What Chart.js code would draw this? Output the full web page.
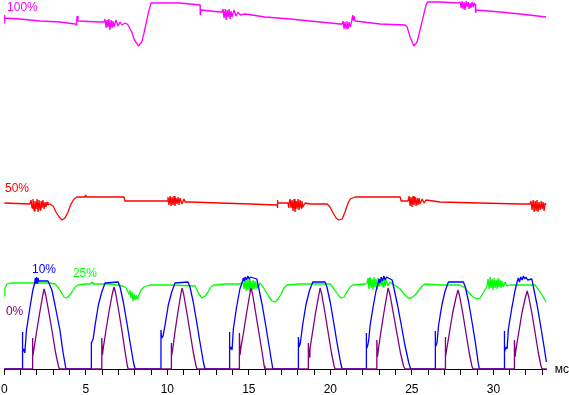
<!DOCTYPE html>
<html>
<head>
<meta charset="utf-8">
<script src="https://cdn.jsdelivr.net/npm/chart.js@4/dist/chart.umd.min.js"></script>
<style>
  html, body { margin: 0; padding: 0; background: #fff; }
  #wrap { width: 569px; height: 395px; position: relative; }
</style>
</head>
<body>
<div id="wrap"><canvas id="scope"></canvas></div>
<script>
// time in ms, level in screen units (0 = baseline)
const timeTicks = [0, 5, 10, 15, 20, 25, 30];
const timeMax = 33.27;
const traceNames = ["100%", "50%", "25%", "10%", "0%"];

const magenta100 = [
    [0.00, 346], [0.01, 354], [0.04, 351], [0.96, 350], [2.19, 348], [3.42, 347], [4.34, 345], [4.43, 344],
    [4.46, 353], [4.52, 348], [5.87, 347],
    [6.12, 347], [6.18, 350], [6.24, 341], [6.30, 349], [6.36, 342], [6.42, 350], [6.48, 339], [6.55, 349],
    [6.61, 341], [6.67, 348], [6.73, 342], [6.85, 349], [6.98, 343], [7.10, 347], [7.22, 344], [7.40, 346],
    [7.53, 345], [7.59, 344], [7.82, 337], [7.98, 329], [8.16, 325], [8.22, 323], [8.43, 327], [8.57, 336],
    [8.74, 349], [8.88, 359], [9.00, 366], [9.55, 366], [10.78, 366], [12.01, 364], [12.02, 354], [12.07, 359],
    [13.24, 357], [13.36, 357], [13.42, 360], [13.48, 351], [13.55, 360], [13.61, 349], [13.67, 359], [13.73, 352],
    [13.79, 360], [13.85, 350], [13.91, 358], [13.97, 352], [14.09, 359], [14.21, 353], [14.34, 357], [14.46, 354],
    [14.77, 355], [15.99, 352], [17.53, 350], [18.14, 349], [19.37, 347], [20.59, 345],
    [20.72, 345], [20.78, 348], [20.84, 340], [20.90, 347], [20.96, 341], [21.02, 348], [21.08, 340], [21.15, 347],
    [21.21, 342], [21.27, 345], [21.37, 354], [21.39, 349], [21.45, 353], [21.52, 348],
    [23.05, 345], [24.58, 344], [24.71, 342], [24.89, 332], [25.07, 325], [25.13, 323], [25.32, 327], [25.50, 339],
    [25.69, 352], [25.87, 364], [25.96, 367], [26.73, 367], [27.83, 366],
    [27.96, 367], [28.02, 361], [28.08, 368], [28.14, 360], [28.20, 367], [28.26, 359], [28.33, 368], [28.39, 362],
    [28.45, 367], [28.51, 360], [28.57, 366], [28.63, 361], [28.69, 367], [28.76, 362], [28.82, 366],
    [28.88, 365], [28.91, 356], [28.94, 359], [30.41, 357], [31.64, 355], [33.23, 352]
];

const red50 = [
    [0.00, 166], [1.58, 165],
    [1.64, 169], [1.70, 161], [1.76, 170], [1.83, 158], [1.88, 168], [1.95, 160], [2.01, 170], [2.07, 157],
    [2.13, 169], [2.19, 159], [2.25, 168], [2.31, 161], [2.37, 169], [2.44, 160], [2.50, 167], [2.56, 162],
    [2.62, 167], [2.68, 164],
    [2.80, 165], [2.99, 163], [3.17, 157], [3.36, 152], [3.54, 149], [3.72, 151], [3.91, 157], [4.09, 165],
    [4.28, 170], [4.46, 172], [4.95, 172], [4.98, 174], [5.01, 172], [5.87, 172], [7.34, 172], [7.40, 168],
    [8.33, 168], [9.86, 168],
    [9.98, 168], [10.04, 172], [10.10, 164], [10.17, 173], [10.23, 163], [10.29, 172], [10.35, 164], [10.41, 173],
    [10.47, 163], [10.53, 171], [10.60, 165], [10.66, 172], [10.72, 164], [10.78, 171], [10.90, 165], [11.02, 170],
    [11.09, 167],
    [11.39, 167], [13.23, 166], [15.07, 165], [16.67, 164], [16.74, 164], [16.75, 161], [16.76, 169], [16.78, 166],
    [17.40, 166], [17.45, 161], [17.47, 166],
    [17.53, 170], [17.59, 161], [17.65, 169], [17.71, 158], [17.77, 170], [17.83, 157], [17.90, 168], [17.96, 160],
    [18.02, 170], [18.08, 159], [18.14, 169], [18.20, 161], [18.26, 168], [18.32, 162], [18.45, 166],
    [18.75, 165], [19.80, 165], [19.98, 162], [20.17, 156], [20.35, 151], [20.53, 149], [20.72, 150], [20.90, 157],
    [21.09, 166], [21.21, 170], [21.52, 172], [23.05, 172], [24.28, 172], [24.34, 168], [24.58, 168],
    [24.77, 168], [24.83, 173], [24.89, 163], [24.95, 172], [25.01, 162], [25.07, 173], [25.13, 164], [25.20, 172],
    [25.26, 163], [25.32, 171], [25.38, 164], [25.44, 171], [25.50, 165], [25.63, 170], [25.75, 166], [25.87, 169],
    [26.73, 167], [29.18, 166], [31.64, 165], [32.25, 165],
    [32.31, 168], [32.37, 159], [32.44, 169], [32.50, 157], [32.56, 168], [32.62, 158], [32.68, 169], [32.74, 157],
    [32.80, 167], [32.87, 159], [32.93, 168], [32.99, 160], [33.05, 167], [33.11, 158], [33.17, 166], [33.23, 164]
];

const green25 = [
    [0.00, 73], [0.04, 81], [0.17, 85], [0.35, 86], [1.58, 86], [2.80, 86], [3.11, 85], [3.29, 82],
    [3.48, 77], [3.66, 72], [3.79, 71], [3.97, 73], [4.15, 77], [4.34, 82], [4.52, 84], [4.95, 85],
    [5.26, 85], [5.38, 87], [5.44, 85], [6.48, 85], [7.28, 83], [7.47, 81], [7.65, 75],
    [7.71, 79], [7.77, 71], [7.83, 77], [7.90, 68], [7.96, 75], [8.02, 69], [8.08, 74], [8.14, 70], [8.20, 72],
    [8.39, 79], [8.57, 82], [8.94, 84], [10.17, 84], [11.70, 83], [11.94, 75], [12.13, 71], [12.31, 73],
    [12.50, 77], [12.68, 82], [12.86, 84], [13.53, 85], [14.46, 85],
    [14.64, 87], [14.71, 80], [14.77, 90], [14.83, 78], [14.89, 89], [14.95, 79], [15.01, 90], [15.07, 77],
    [15.13, 88], [15.20, 79], [15.26, 89], [15.32, 80], [15.38, 88], [15.44, 81], [15.50, 87], [15.56, 81],
    [15.69, 86], [15.81, 83],
    [15.87, 82], [16.06, 77], [16.24, 72], [16.42, 68], [16.61, 67], [16.79, 70], [16.98, 75], [17.16, 81],
    [17.34, 84], [18.14, 85], [19.37, 85], [19.98, 85], [20.23, 80], [20.47, 74], [20.66, 71], [20.84, 72],
    [21.02, 77], [21.21, 82], [21.39, 84], [22.13, 85],
    [22.25, 86], [22.31, 91], [22.37, 80], [22.44, 92], [22.50, 81], [22.56, 90], [22.62, 79], [22.68, 92],
    [22.74, 82], [22.80, 90], [22.87, 80], [22.93, 91], [22.99, 82], [23.05, 90], [23.11, 83], [23.17, 91],
    [23.23, 82], [23.29, 90], [23.36, 83], [23.42, 89], [23.54, 83], [23.66, 87],
    [23.79, 85], [24.03, 83], [24.28, 80], [24.52, 75], [24.77, 71], [24.95, 71], [25.20, 74], [25.44, 79],
    [25.63, 83], [25.81, 85], [26.73, 84], [27.96, 84], [28.26, 81], [28.51, 76], [28.75, 72], [29.00, 70],
    [29.18, 71], [29.37, 76], [29.55, 81],
    [29.61, 83], [29.67, 90], [29.74, 80], [29.80, 92], [29.86, 81], [29.92, 90], [29.98, 79], [30.04, 91],
    [30.10, 81], [30.17, 89], [30.23, 80], [30.29, 91], [30.35, 82], [30.41, 89], [30.47, 81], [30.53, 88],
    [30.60, 82], [30.72, 87], [30.84, 83],
    [31.02, 84], [32.56, 84], [32.74, 80], [32.99, 74], [33.23, 67]
];

const blue10 = [
    [0.00, 0],
    [1.10, 0], [1.10, 37], [1.14, 17], [1.20, 20], [1.26, 16], [1.36, 39], [1.55, 59], [1.74, 78], [1.86, 86],
    [1.90, 91], [1.94, 85], [1.98, 92], [2.02, 86], [2.06, 91], [2.12, 88], [2.68, 88], [2.92, 79], [3.11, 64],
    [3.41, 39], [3.60, 17], [3.78, 0],
    [5.32, 0], [5.32, 27], [5.36, 26], [5.45, 30], [5.57, 44], [5.77, 64], [5.98, 77], [6.18, 86], [6.98, 87],
    [7.10, 82], [7.30, 67], [7.51, 47], [7.71, 27], [7.92, 7], [8.02, 0],
    [9.61, 0], [9.61, 39], [9.65, 31], [9.74, 33], [9.86, 44], [10.06, 64], [10.27, 77], [10.47, 86], [11.27, 87],
    [11.39, 82], [11.59, 67], [11.80, 47], [12.00, 27], [12.21, 7], [12.31, 0],
    [13.80, 0], [13.80, 37], [13.84, 19], [13.90, 22], [13.97, 19], [14.05, 40], [14.25, 62], [14.45, 80], [14.62, 88],
    [14.66, 91], [14.72, 88], [14.78, 92], [14.86, 89], [14.94, 93], [15.02, 90], [15.10, 92], [15.49, 90],
    [15.62, 80], [15.82, 64], [16.03, 44], [16.23, 24], [16.40, 7], [16.47, 0],
    [18.04, 0], [18.04, 32], [18.08, 22], [18.16, 26], [18.30, 44], [18.50, 64], [18.71, 78], [18.92, 87], [19.67, 87],
    [19.79, 82], [19.99, 67], [20.20, 47], [20.40, 27], [20.62, 7], [20.72, 0],
    [22.19, 0], [22.19, 36], [22.23, 20], [22.30, 24], [22.36, 30], [22.44, 44], [22.62, 62], [22.80, 78], [22.93, 86],
    [22.99, 90], [23.05, 86], [23.12, 92], [23.20, 88], [23.28, 93], [23.36, 89], [23.45, 92], [23.79, 89],
    [23.91, 80], [24.12, 64], [24.35, 44], [24.57, 24], [24.80, 7], [24.92, 0],
    [26.42, 0], [26.42, 38], [26.46, 22], [26.54, 26], [26.64, 44], [26.84, 64], [27.04, 78], [27.24, 87], [28.16, 87],
    [28.28, 82], [28.48, 67], [28.69, 47], [28.89, 27], [29.06, 7], [29.14, 0],
    [30.66, 0], [30.66, 38], [30.70, 17], [30.77, 22], [30.84, 20], [30.92, 40], [31.12, 60], [31.32, 78], [31.47, 88],
    [31.53, 91], [31.60, 87], [31.68, 92], [31.76, 89], [31.84, 93], [31.92, 90], [32.00, 92], [32.10, 89],
    [32.36, 90], [32.48, 80], [32.68, 64], [32.89, 44], [33.09, 24], [33.25, 7]
];

const purple0 = [
    [0.00, 0],
    [1.72, 0], [1.72, 31], [1.76, 12], [1.82, 20], [1.97, 36], [2.17, 56], [2.34, 72], [2.44, 80], [2.54, 74],
    [2.74, 56], [2.95, 36], [3.15, 16], [3.32, 3], [3.38, 0],
    [5.98, 0], [5.98, 31], [6.02, 14], [6.08, 22], [6.23, 38], [6.43, 58], [6.61, 74], [6.73, 82], [6.83, 76],
    [7.02, 58], [7.22, 38], [7.42, 16], [7.55, 3], [7.60, 0],
    [10.23, 0], [10.23, 26], [10.27, 12], [10.33, 20], [10.46, 36], [10.64, 56], [10.80, 72], [10.90, 81], [11.00, 75],
    [11.20, 56], [11.40, 36], [11.60, 16], [11.76, 3], [11.82, 0],
    [14.42, 0], [14.42, 36], [14.46, 14], [14.52, 22], [14.67, 36], [14.86, 56], [15.03, 72], [15.13, 81], [15.23, 75],
    [15.42, 56], [15.62, 36], [15.82, 16], [15.94, 3], [15.99, 0],
    [18.65, 0], [18.65, 26], [18.69, 12], [18.75, 20], [18.90, 36], [19.09, 56], [19.27, 72], [19.37, 81], [19.47, 75],
    [19.67, 56], [19.87, 36], [20.07, 16], [20.23, 3], [20.29, 0],
    [22.85, 0], [22.85, 29], [22.89, 12], [22.95, 20], [23.09, 36], [23.28, 56], [23.45, 72], [23.54, 81], [23.65, 75],
    [23.86, 56], [24.08, 36], [24.30, 16], [24.49, 3], [24.58, 0],
    [27.04, 0], [27.04, 32], [27.08, 12], [27.14, 20], [27.30, 36], [27.50, 56], [27.70, 71], [27.83, 79], [27.93, 73],
    [28.12, 56], [28.32, 36], [28.52, 16], [28.68, 3], [28.75, 0],
    [31.29, 0], [31.29, 29], [31.33, 12], [31.39, 20], [31.55, 36], [31.75, 56], [31.94, 70], [32.07, 78], [32.17, 72],
    [32.36, 56], [32.56, 36], [32.76, 16], [32.92, 3], [32.99, 0],
    [33.27, 0]
];

const UNIT = "мс";
const FONT = '12px "Liberation Sans", Arial, sans-serif';

// text labels: name index, position in (ms, level), colour
const traceLabels = [
    { name: 0, at: [0.17, 358], color: "#ff00ff" },
    { name: 1, at: [0.04, 177], color: "#ff0000" },
    { name: 2, at: [4.21, 92], color: "#00ff00" },
    { name: 3, at: [1.70, 96], color: "#0000ff" },
    { name: 4, at: [0.10, 54], color: "#800080" }
];

const labelsPlugin = {
    id: "traceLabels",
    afterDraw(chart) {
        const { ctx, chartArea } = chart;
        const x = chart.scales.x;
        const y = chart.scales.y;
        ctx.save();
        ctx.font = FONT;
        ctx.textBaseline = "alphabetic";
        traceLabels.forEach(t => {
            ctx.fillStyle = t.color;
            ctx.fillText(traceNames[t.name], x.getPixelForValue(t.at[0]), y.getPixelForValue(t.at[1]));
        });
        ctx.fillStyle = "#000";
        ctx.fillText(UNIT, chartArea.right + 8, chartArea.bottom + 4);
        ctx.restore();
    }
};

function trace(data, color) {
    return {
        data: data.map(p => ({ x: p[0], y: p[1] })),
        borderColor: color,
        borderWidth: 1.3,
        borderJoinStyle: "bevel",
        showLine: true,
        pointRadius: 0,
        tension: 0,
        clip: false
    };
}

document.addEventListener("DOMContentLoaded", () => {
    const ctx = document.getElementById("scope").getContext("2d");
    new Chart(ctx, {
        type: "scatter",
        data: {
            datasets: [
                trace(purple0, "#800080"),
                trace(blue10, "#0000ff"),
                trace(green25, "#00ff00"),
                trace(red50, "#ff0000"),
                trace(magenta100, "#ff00ff")
            ]
        },
        options: {
            responsive: true,
            maintainAspectRatio: false,
            animation: false,
            layout: { padding: { left: 4.3, right: 22.3, top: 0, bottom: 0 } },
            plugins: { legend: { display: false }, tooltip: { enabled: false } },
            scales: {
                x: {
                    type: "linear",
                    min: 0,
                    max: timeMax,
                    afterFit: s => {
                        s.height = 26;
                        s.paddingLeft = 0;
                        s.paddingRight = 0;
                    },
                    border: { display: true, color: "#000", width: 1 },
                    grid: { drawOnChartArea: false, drawTicks: true, tickLength: 6, tickColor: "#000", color: "#000" },
                    ticks: {
                        stepSize: 1,
                        autoSkip: false,
                        maxRotation: 0,
                        includeBounds: false,
                        padding: 7,
                        color: "#000",
                        font: { family: '"Liberation Sans", Arial, sans-serif', size: 12 },
                        callback: v => timeTicks.includes(v) ? String(v) : ""
                    }
                },
                y: { display: false, min: 0, max: 369 }
            }
        },
        plugins: [labelsPlugin]
    });
});
</script>
</body>
</html>
